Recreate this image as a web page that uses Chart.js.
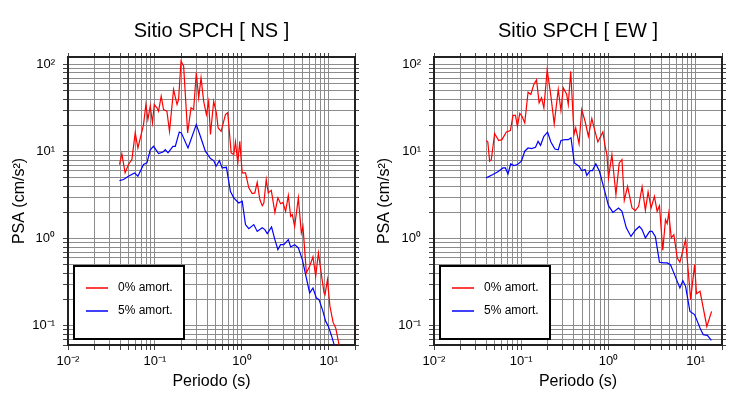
<!DOCTYPE html>
<html lang="es">
<head>
<meta charset="UTF-8">
<title>Sitio SPCH - PSA</title>
<script src="https://cdn.jsdelivr.net/npm/chart.js"></script>
<style>
    body { margin: 0; background: #fff; }
    .wrap { display: flex; width: 730px; height: 400px; }
    canvas { display: block; }
</style>
</head>
<body>
<div class="wrap">
    <canvas id="chartNS" width="365" height="400"></canvas>
    <canvas id="chartEW" width="365" height="400"></canvas>
</div>
<script>
// Sitio SPCH [ NS ] - 0% amort.
const nsPer0 = [0.0391,0.0416,0.0454,0.0496,0.0543,0.0593,0.0637,0.0739,0.0787,0.0830,0.0883,0.0937,0.0982,0.1054,0.110,0.118,0.1256,0.1374,0.147,0.1638,0.1795,0.187,0.1995,0.2138,0.2377,0.260,0.2786,0.299,0.3185,0.339,0.3636,0.3906,0.415,0.4348,0.474,0.509,0.533,0.5768,0.647,0.687,0.753,0.8065,0.8433,0.897,0.9463,1.008,1.10,1.201,1.314,1.409,1.501,1.609,1.714,1.789,1.906,2.01,2.178,2.396,2.594,2.786,2.963,3.184,3.42,3.636,3.80,4.044,4.46,4.83,5.04,5.515,6.02,6.57,7.06,7.59,8.07,8.80,9.04,9.64,10.3,11.2,12.0,13.1,14.0];
const nsPsa0 = [7.10,9.4,5.69,7.1,8.09,16.4,11.0,20.4,34.7,23.3,33.2,21.4,34.7,31.8,29.0,43.3,30.4,29.0,17.1,51.6,34.7,39.6,109,95.5,16.4,31.8,30.4,80.3,41.4,70.3,37.8,26.6,37.8,15.7,37.8,27.9,18.7,17.1,26.6,27.9,9.66,9.24,12.9,7.41,13.1,5.69,5.69,3.83,3.29,3.35,4.44,2.81,2.39,2.57,4.77,3.35,3.59,2.00,2.94,2.52,2.61,2.06,3.12,1.80,1.89,1.38,2.94,1.16,1.38,0.404,0.481,0.617,0.369,0.686,0.441,0.238,0.227,0.338,0.167,0.109,0.0942,0.0605,0.048];
// Sitio SPCH [ NS ] - 5% amort.
const nsPer5 = [0.0391,0.0435,0.0496,0.0582,0.0637,0.0739,0.0809,0.0883,0.0964,0.110,0.1236,0.1316,0.1413,0.161,0.1714,0.1905,0.201,0.240,0.299,0.333,0.380,0.435,0.474,0.5053,0.5515,0.5926,0.6637,0.739,0.8065,0.920,1.008,1.10,1.201,1.371,1.501,1.714,1.837,1.958,2.194,2.396,2.594,2.786,3.04,3.42,3.636,4.044,4.46,4.96,5.515,6.02,6.57,7.19,7.71,8.44,9.21,9.89,10.8,11.5,12.3];
const nsPsa5 = [4.64,4.77,5.20,5.69,5.20,7.10,7.41,10.5,11.5,9.48,9.9,10.5,9.66,11.5,11.5,16.8,16.4,11.0,20.4,15.0,10.1,8.31,7.88,6.78,7.88,6.49,6.6,3.47,2.94,2.57,2.69,1.45,1.30,1.45,1.21,1.33,1.27,1.14,1.36,0.974,0.748,0.853,0.853,0.974,0.803,0.853,0.782,0.574,0.353,0.238,0.271,0.208,0.199,0.153,0.112,0.098,0.0753,0.0605,0.05];

// Sitio SPCH [ EW ] - 0% amort.
const ewPer0 = [0.0397,0.0414,0.0434,0.0454,0.0495,0.0551,0.0601,0.0675,0.0751,0.0804,0.0858,0.0904,0.0961,0.102,0.1097,0.1197,0.1287,0.1393,0.1497,0.1603,0.171,0.1817,0.1983,0.2187,0.2387,0.2655,0.2851,0.303,0.332,0.346,0.369,0.4027,0.421,0.4597,0.4937,0.539,0.588,0.644,0.703,0.755,0.862,0.916,0.959,1.0,1.094,1.217,1.328,1.427,1.517,1.655,1.86,2.03,2.216,2.426,2.648,2.844,3.08,3.36,3.61,3.84,4.19,4.50,4.71,4.91,5.24,5.61,6.14,6.58,7.65,8.74,9.71,10.2,11.2,13.4,15.2];
const ewPsa0 = [13.4,12.9,7.74,8.09,16.1,13.4,13.7,16.8,17.4,26.1,26.1,19.5,27.5,25.5,21.4,48.1,45.2,58.9,66.7,36.3,41.4,31.8,86.9,43.3,20.8,51.6,29.6,54.0,45.2,34.7,83.8,15.7,18.7,12.3,30.4,22.3,15.0,23.9,16.8,12.9,16.8,11.5,9.24,4.99,9.24,3.21,7.41,8.09,2.75,3.99,2.25,2.10,2.35,3.93,2.11,3.44,2.25,3.06,2.06,2.39,0.734,1.65,1.49,1.97,1.02,1.11,0.600,0.535,0.974,0.199,0.502,0.233,0.248,0.098,0.146];
// Sitio SPCH [ EW ] - 5% amort.
const ewPer5 = [0.0397,0.0473,0.054,0.0617,0.0658,0.0705,0.0757,0.0826,0.0904,0.1005,0.1097,0.1197,0.131,0.1458,0.156,0.1665,0.1817,0.2004,0.2187,0.243,0.2655,0.2851,0.317,0.346,0.3716,0.4057,0.4597,0.4937,0.539,0.5637,0.616,0.654,0.716,0.788,0.876,1.0,1.124,1.304,1.427,1.6,1.811,2.03,2.258,2.426,2.648,2.968,3.16,3.45,3.84,4.30,4.71,5.14,5.61,6.58,7.12,7.65,8.58,9.71,11.2,12.2,13.6,15.1];
const ewPsa5 = [4.99,5.44,5.85,6.49,6.49,5.54,7.22,6.90,7.10,7.74,10.1,11.0,10.8,11.2,13.1,11.8,15.0,16.7,12.9,10.7,10.5,13.4,13.7,13.7,14.4,7.41,6.78,6.05,6.21,5.34,6.05,6.05,7.22,5.94,3.99,2.39,2.00,2.25,2.06,1.33,1.06,1.25,1.38,1.27,1.02,1.21,1.21,1.05,0.535,0.526,0.526,0.502,0.404,0.271,0.329,0.283,0.146,0.134,0.094,0.0789,0.0775,0.0678];

const seriesLabels = ['0% amort.', '5% amort.'];
const seriesColors = ['#ff0000', '#0000ff'];

// axis ranges
const perMin = 0.01, perMax = 20;
const psaMin = 0.06, psaMax = 122;

Chart.defaults.font.family = '"Liberation Sans", Arial, Helvetica, sans-serif';
Chart.defaults.color = '#000';

const SUP = {'-': '\u207B', '0': '\u2070', '1': '\u00B9', '2': '\u00B2', '3': '\u00B3'};

function decadeTicks(min, max) {
    const out = [];
    for (let e = -3; e <= 3; e++) {
        for (let m = 1; m <= 9; m++) {
            const v = parseFloat((m * Math.pow(10, e)).toPrecision(3));
            if (v >= min * 0.999 && v <= max * 1.001) out.push({ value: v });
        }
    }
    return out;
}

function powLabel(v) {
    const e = Math.log10(v);
    if (Math.abs(e - Math.round(e)) > 1e-6) return '';
    return '10' + String(Math.round(e)).split('').map(c => SUP[c]).join('');
}

function toPoints(per, psa) {
    return per.map((t, i) => ({ x: t, y: psa[i] }));
}

const legendBox = {
    id: 'legendBox',
    afterDatasetsDraw(chart) {
        const { ctx, chartArea } = chart;
        const w = 110, h = 73;
        const x = chartArea.left + 6, y = chartArea.bottom - 6 - h;
        ctx.save();
        ctx.fillStyle = '#fff';
        ctx.fillRect(x, y, w, h);
        ctx.lineWidth = 2;
        ctx.strokeStyle = '#000';
        ctx.strokeRect(x, y, w, h);
        chart.data.datasets.forEach((ds, i) => {
            const ly = y + 22 + i * 23;
            ctx.strokeStyle = ds.borderColor;
            ctx.lineWidth = 1.5;
            ctx.beginPath();
            ctx.moveTo(x + 12, ly);
            ctx.lineTo(x + 34, ly);
            ctx.stroke();
            ctx.fillStyle = '#000';
            ctx.font = '12px "Liberation Sans", Arial, sans-serif';
            ctx.textBaseline = 'middle';
            ctx.fillText(ds.label, x + 44, ly);
        });
        ctx.restore();
    }
};

function makeChart(id, title, per0, psa0, per5, psa5, leftW, rightW) {
    const grid = { color: '#8c8c8c', lineWidth: 1, tickColor: '#444', tickLength: 5 };
    const border = { display: true, color: '#222', width: 2 };
    return new Chart(document.getElementById(id), {
        type: 'scatter',
        data: {
            datasets: [
                { label: seriesLabels[0], data: toPoints(per0, psa0), borderColor: seriesColors[0], backgroundColor: seriesColors[0], showLine: true, borderWidth: 1.2, pointRadius: 0, xAxisID: 'x', yAxisID: 'y' },
                { label: seriesLabels[1], data: toPoints(per5, psa5), borderColor: seriesColors[1], backgroundColor: seriesColors[1], showLine: true, borderWidth: 1.2, pointRadius: 0, xAxisID: 'x', yAxisID: 'y' }
            ]
        },
        options: {
            responsive: false,
            animation: false,
            layout: { padding: 0 },
            plugins: {
                legend: { display: false },
                tooltip: { enabled: false },
                title: {
                    display: true,
                    text: title,
                    fullSize: false,
                    color: '#000',
                    font: { size: 20, weight: 'normal' },
                    padding: { top: 19, bottom: 9 }
                }
            },
            scales: {
                x: {
                    type: 'logarithmic', position: 'bottom', min: perMin, max: perMax,
                    afterBuildTicks: s => { s.ticks = decadeTicks(perMin, perMax); },
                    afterFit: s => { s.height = 55; },
                    ticks: { autoSkip: false, maxRotation: 0, padding: 4, font: { size: 13 }, callback: v => powLabel(v) },
                    grid: grid, border: border,
                    title: { display: true, text: 'Periodo (s)', font: { size: 16 }, padding: { bottom: 9 } }
                },
                x2: {
                    type: 'logarithmic', position: 'top', min: perMin, max: perMax,
                    afterBuildTicks: s => { s.ticks = decadeTicks(perMin, perMax); },
                    afterFit: s => { s.height = 5; },
                    ticks: { display: false, autoSkip: false },
                    grid: Object.assign({}, grid, { drawOnChartArea: false, tickLength: 4 }), border: border
                },
                y: {
                    type: 'logarithmic', position: 'left', min: psaMin, max: psaMax,
                    afterBuildTicks: s => { s.ticks = decadeTicks(psaMin, psaMax); },
                    afterFit: s => { s.width = leftW; },
                    ticks: { autoSkip: false, padding: 8, font: { size: 13 }, callback: v => powLabel(v) },
                    grid: grid, border: border,
                    title: { display: true, text: 'PSA (cm/s\u00B2)', font: { size: 16 }, padding: { top: 10 } }
                },
                y2: {
                    type: 'logarithmic', position: 'right', min: psaMin, max: psaMax,
                    afterBuildTicks: s => { s.ticks = decadeTicks(psaMin, psaMax); },
                    afterFit: s => { s.width = rightW; },
                    ticks: { display: false, autoSkip: false },
                    grid: Object.assign({}, grid, { drawOnChartArea: false, tickLength: 4 }), border: border
                }
            }
        },
        plugins: [legendBox]
    });
}

makeChart('chartNS', 'Sitio SPCH [ NS ]', nsPer0, nsPsa0, nsPer5, nsPsa5, 68, 10);
makeChart('chartEW', 'Sitio SPCH [ EW ]', ewPer0, ewPsa0, ewPer5, ewPsa5, 69, 8);
</script>
</body>
</html>
